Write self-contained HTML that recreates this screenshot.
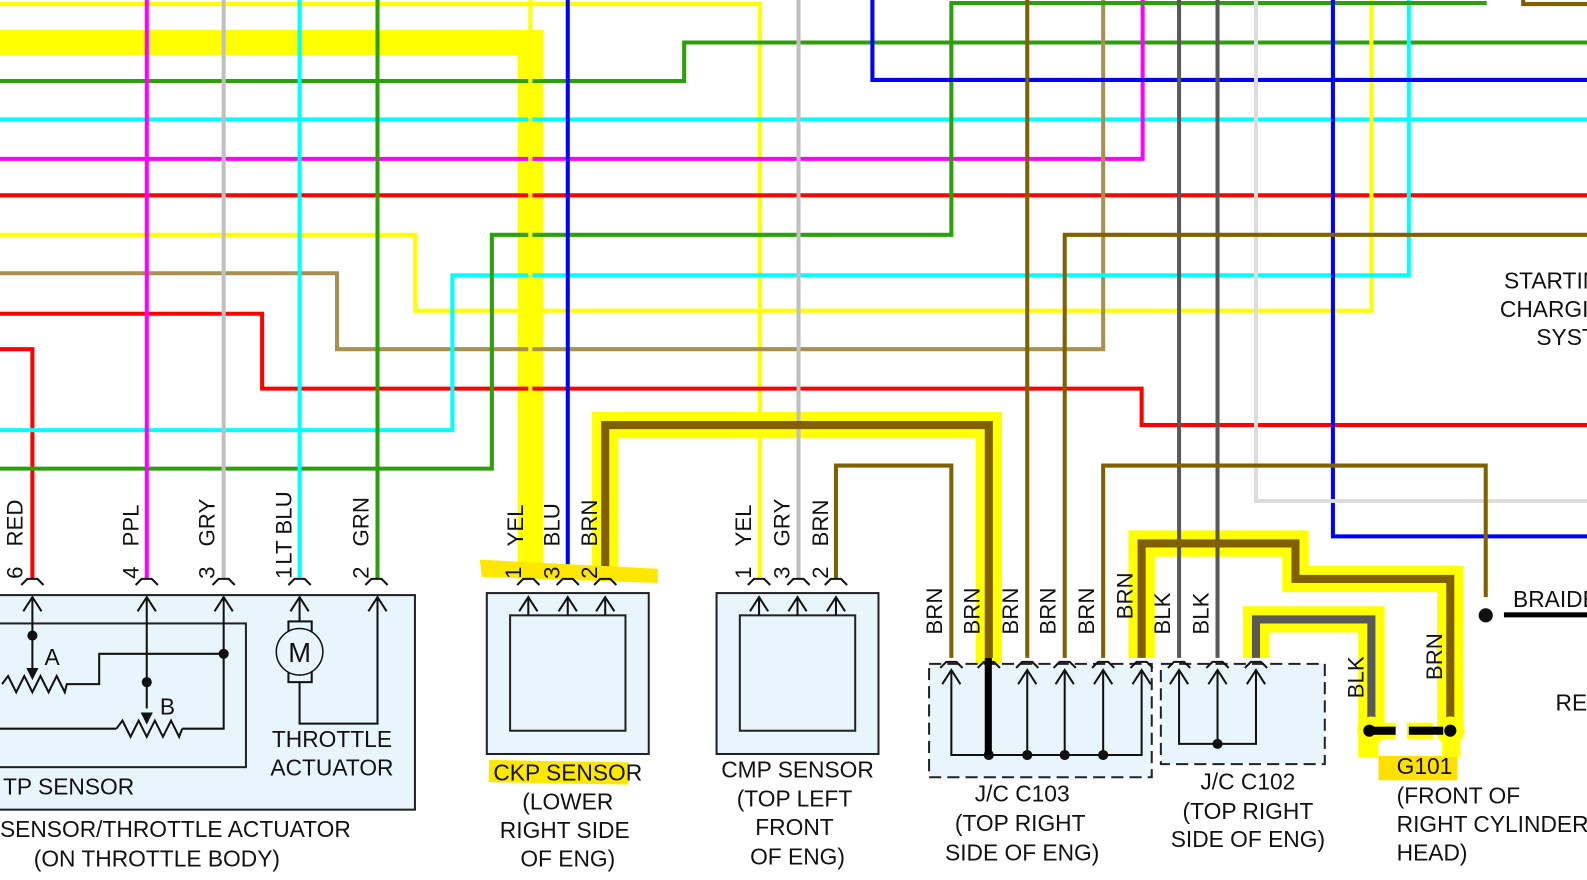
<!DOCTYPE html>
<html><head><meta charset="utf-8"><style>
html,body{margin:0;padding:0;background:#fff;overflow:hidden}
svg{display:block}
text{font-family:"Liberation Sans",sans-serif;fill:#111}
</style></head><body>
<svg width="1587" height="880" viewBox="0 0 1568 869.5" preserveAspectRatio="xMinYMin meet" xmlns="http://www.w3.org/2000/svg">
<g fill="none" stroke-linejoin="miter">
<path d="M0 42 H524 V572" stroke="#ffff00" stroke-width="25"/>
<path d="M598 572 V420 H977 V746" stroke="#ffff00" stroke-width="26"/>
<path d="M1128 650 V537 H1280 V572 H1433 V722" stroke="#ffff00" stroke-width="26"/>
<path d="M1241 650 V612 H1355 V722" stroke="#ffff00" stroke-width="26"/>
<path d="M0 4 H751 V572" stroke="#ffff00" stroke-width="4"/>
<path d="M0 80 H676 V42 H1587" stroke="#2aa10a" stroke-width="4"/>
<path d="M0 118 H1587" stroke="#00ffff" stroke-width="4"/>
<path d="M0 157 H1129 V0" stroke="#ff00ff" stroke-width="4"/>
<path d="M0 193 H1587" stroke="#ff0000" stroke-width="4"/>
<path d="M0 232 H410 V307 H1355 V0" stroke="#ffff00" stroke-width="4"/>
<path d="M0 270 H333 V345 H1090 V0" stroke="#a89050" stroke-width="4"/>
<path d="M0 310 H259 V384 H1128 V420 H1587" stroke="#ff0000" stroke-width="4"/>
<path d="M0 345 H32 V572" stroke="#ff0000" stroke-width="4"/>
<path d="M0 425 H447 V272 H1392 V0" stroke="#00ffff" stroke-width="4"/>
<path d="M0 463 H486 V232 H940 V3 H1469" stroke="#2aa10a" stroke-width="4"/>
<path d="M145 0 V572" stroke="#ff00ff" stroke-width="4"/>
<path d="M221 0 V572" stroke="#c0c0c0" stroke-width="4"/>
<path d="M296 0 V572" stroke="#00ffff" stroke-width="4"/>
<path d="M373 0 V572" stroke="#2aa10a" stroke-width="4"/>
<path d="M524 0 V572" stroke="#ffff00" stroke-width="4"/>
<path d="M561 0 V572" stroke="#0000ff" stroke-width="4"/>
<path d="M789 0 V572" stroke="#c0c0c0" stroke-width="4"/>
<path d="M862 0 V79 H1587" stroke="#0000ff" stroke-width="4"/>
<path d="M1317 0 V530 H1587" stroke="#0000ff" stroke-width="4"/>
<path d="M1241 0 V495 H1587" stroke="#dcdcdc" stroke-width="4"/>
<path d="M1165 0 V650" stroke="#595959" stroke-width="4"/>
<path d="M1203 0 V650" stroke="#595959" stroke-width="4"/>
<path d="M1015 0 V650" stroke="#806000" stroke-width="4"/>
<path d="M1052 650 V232 H1587" stroke="#806000" stroke-width="4"/>
<path d="M1090 650 V460 H1468 V590" stroke="#806000" stroke-width="4"/>
<path d="M826 572 V460 H940 V650" stroke="#806000" stroke-width="4"/>
<path d="M1505 0 V4 H1587" stroke="#806000" stroke-width="4"/>
<path d="M598 572 V420 H977 V650" stroke="#806000" stroke-width="8"/>
<path d="M1128 650 V537 H1280 V572 H1433 V722" stroke="#806000" stroke-width="8"/>
<path d="M1241 650 V612 H1355 V722" stroke="#595959" stroke-width="8"/>
</g>
<path d="M474 553 L650 562 L650 576 L476 570 Z" fill="#ffe800"/>
<rect x="483" y="752" width="138" height="22" fill="#ffe800" transform="rotate(1 550 763)"/>
<rect x="1362" y="747" width="78" height="24" fill="#ffe000"/>
<g stroke="#222" stroke-width="2" fill="#e8f5fc">
<rect x="-2" y="588" width="412" height="212"/>
<rect x="-2" y="616" width="245" height="142"/>
<rect x="481" y="586" width="160" height="159"/>
<rect x="504" y="608" width="114" height="114"/>
<rect x="708" y="586" width="160" height="159"/>
<rect x="731" y="608" width="114" height="114"/>
<rect x="918" y="656" width="220" height="112" stroke-dasharray="12 6"/>
<rect x="1147" y="656" width="162" height="99" stroke-dasharray="12 6"/>
</g>
<g fill="none" stroke="#111" stroke-width="2">
<path d="M21 578 L27 572 H37 L43 578 M134 578 L140 572 H150 L156 578 M210 578 L216 572 H226 L232 578 M285 578 L291 572 H301 L307 578 M361 578 L367 572 H377 L383 578"/>
<path d="M511 578 L517 572 H527 L533 578 M550 578 L556 572 H566 L572 578 M587 578 L593 572 H603 L609 578"/>
<path d="M739 578 L745 572 H755 L761 578 M778 578 L784 572 H794 L800 578 M815 578 L821 572 H831 L837 578"/>
<path d="M929 660 L935 654 H945 L951 660 M966 660 L972 654 H982 L988 660 M1004 660 L1010 654 H1020 L1026 660 M1041 660 L1047 654 H1057 L1063 660 M1079 660 L1085 654 H1095 L1101 660 M1117 660 L1123 654 H1133 L1139 660"/>
<path d="M1154 660 L1160 654 H1170 L1176 660 M1192 660 L1198 654 H1208 L1214 660 M1230 660 L1236 654 H1246 L1252 660"/>
<path d="M23 604 L32 590 L41 604 M136 604 L145 590 L154 604 M212 604 L221 590 L230 604 M287 604 L296 590 L305 604 M364 604 L373 590 L382 604"/>
<path d="M513 604 L522 590 L531 604 M552 604 L561 590 L570 604 M589 604 L598 590 L607 604"/>
<path d="M741 604 L750 590 L759 604 M779 604 L788 590 L797 604 M817 604 L826 590 L835 604"/>
<path d="M931 676 L940 662 L949 676 M1006 676 L1015 662 L1024 676 M1043 676 L1052 662 L1061 676 M1081 676 L1090 662 L1099 676 M1119 676 L1128 662 L1137 676"/>
<path d="M1156 676 L1165 662 L1174 676 M1194 676 L1203 662 L1212 676 M1232 676 L1241 662 L1250 676"/>
<path d="M32 590 V660 M145 590 V700 M221 590 V720 H180 M0 720 H115"/>
<path d="M2 676 L8 668 L16 684 L24 668 L32 684 L40 668 L48 684 L56 668 L64 684 L66 676 H98 V646 H221"/>
<path d="M115 720 L121 712 L129 728 L137 712 L145 728 L153 712 L161 728 L169 712 L177 728 L180 720"/>
<path d="M296 590 V615 M296 673 V715 H373 V590"/>
<rect x="285" y="614" width="23" height="60" fill="#e8f5fc"/>
<circle cx="296" cy="644" r="23" fill="#e8f5fc" stroke-width="1.5"/>
<path d="M522 590 V608 M561 590 V608 M598 590 V608 M750 590 V608 M788 590 V608 M826 590 V608"/>
<path d="M940 662 V746 H1128 V662 M1015 662 V746 M1052 662 V746 M1090 662 V746"/>
<path d="M1165 662 V735 H1241 V662 M1203 662 V735"/>
</g>
<path d="M26 660 L38 660 L32 672 Z M139 704 L151 704 L145 716 Z" fill="#111"/>
<g fill="#111">
<circle cx="32" cy="628" r="5"/><circle cx="145" cy="674" r="5"/><circle cx="221" cy="646" r="5"/>
<circle cx="1015" cy="746" r="5"/><circle cx="1052" cy="746" r="5"/><circle cx="1090" cy="746" r="5"/><circle cx="977" cy="746" r="5"/>
<circle cx="1203" cy="735" r="5"/><circle cx="1468" cy="608" r="7"/>
</g>
<rect x="973" y="650" width="7" height="96" fill="#000"/>
<rect x="1486" y="605" width="101" height="5" fill="#000"/>
<circle cx="1355" cy="722" r="14" fill="#ffff00"/><circle cx="1433" cy="722" r="14" fill="#ffff00"/>
<rect x="1342" y="722" width="20" height="26" fill="#ffff00"/><rect x="1425" y="722" width="18" height="26" fill="#ffff00"/>
<rect x="1365" y="714" width="14" height="16" fill="#ffff00"/><rect x="1390" y="714" width="26" height="16" fill="#ffff00"/>
<rect x="1352" y="718" width="27" height="8" fill="#000"/><rect x="1392" y="718" width="34" height="8" fill="#000"/>
<circle cx="1353" cy="722" r="6" fill="#000"/><circle cx="1433" cy="722" r="6" fill="#000"/>
<g font-size="22.5">
<text x="296" y="654" text-anchor="middle" font-size="27">M</text>
<text x="44" y="657">A</text><text x="158" y="706">B</text>
<text x="328" y="738" text-anchor="middle">THROTTLE</text>
<text x="328" y="766" text-anchor="middle">ACTUATOR</text>
<text x="3" y="785">TP SENSOR</text>
<text x="0" y="827">SENSOR/THROTTLE ACTUATOR</text>
<text x="155" y="856" text-anchor="middle">(ON THROTTLE BODY)</text>
<text x="561" y="771" text-anchor="middle">CKP SENSOR</text>
<text x="561" y="800" text-anchor="middle">(LOWER</text>
<text x="558" y="828" text-anchor="middle">RIGHT SIDE</text>
<text x="561" y="856" text-anchor="middle">OF ENG)</text>
<text x="788" y="768" text-anchor="middle">CMP SENSOR</text>
<text x="785" y="797" text-anchor="middle">(TOP LEFT</text>
<text x="785" y="825" text-anchor="middle">FRONT</text>
<text x="788" y="854" text-anchor="middle">OF ENG)</text>
<text x="1010" y="792" text-anchor="middle">J/C C103</text>
<text x="1008" y="821" text-anchor="middle">(TOP RIGHT</text>
<text x="1010" y="850" text-anchor="middle">SIDE OF ENG)</text>
<text x="1233" y="780" text-anchor="middle">J/C C102</text>
<text x="1233" y="809" text-anchor="middle">(TOP RIGHT</text>
<text x="1233" y="837" text-anchor="middle">SIDE OF ENG)</text>
<text x="1380" y="765">G101</text>
<text x="1380" y="794">(FRONT OF</text>
<text x="1380" y="822">RIGHT CYLINDER</text>
<text x="1380" y="850">HEAD)</text>
<text x="1486" y="285">STARTING</text>
<text x="1482" y="313">CHARGING</text>
<text x="1518" y="341">SYSTEM</text>
<text x="1495" y="600">BRAIDED</text>
<text x="1537" y="702">RE</text>
</g>
<g font-size="22">
<text transform="translate(22,572) rotate(-90)">6</text><text transform="translate(22,540) rotate(-90)">RED</text>
<text transform="translate(137,572) rotate(-90)">4</text><text transform="translate(137,540) rotate(-90)">PPL</text>
<text transform="translate(212,572) rotate(-90)">3</text><text transform="translate(212,540) rotate(-90)">GRY</text>
<text transform="translate(288,572) rotate(-90)">1</text><text transform="translate(288,558) rotate(-90)">LT BLU</text>
<text transform="translate(364,572) rotate(-90)">2</text><text transform="translate(364,540) rotate(-90)">GRN</text>
<text transform="translate(515,572) rotate(-90)">1</text><text transform="translate(517,540) rotate(-90)">YEL</text>
<text transform="translate(553,572) rotate(-90)">3</text><text transform="translate(553,540) rotate(-90)">BLU</text>
<text transform="translate(590,572) rotate(-90)">2</text><text transform="translate(590,540) rotate(-90)">BRN</text>
<text transform="translate(742,572) rotate(-90)">1</text><text transform="translate(742,540) rotate(-90)">YEL</text>
<text transform="translate(780,572) rotate(-90)">3</text><text transform="translate(780,540) rotate(-90)">GRY</text>
<text transform="translate(818,572) rotate(-90)">2</text><text transform="translate(818,540) rotate(-90)">BRN</text>
<text transform="translate(931,627) rotate(-90)">BRN</text>
<text transform="translate(968,627) rotate(-90)">BRN</text>
<text transform="translate(1006,627) rotate(-90)">BRN</text>
<text transform="translate(1043,627) rotate(-90)">BRN</text>
<text transform="translate(1081,627) rotate(-90)">BRN</text>
<text transform="translate(1119,612) rotate(-90)">BRN</text>
<text transform="translate(1156,627) rotate(-90)">BLK</text>
<text transform="translate(1194,627) rotate(-90)">BLK</text>
<text transform="translate(1347,690) rotate(-90)">BLK</text>
<text transform="translate(1425,672) rotate(-90)">BRN</text>
</g>
</svg>
</body></html>
